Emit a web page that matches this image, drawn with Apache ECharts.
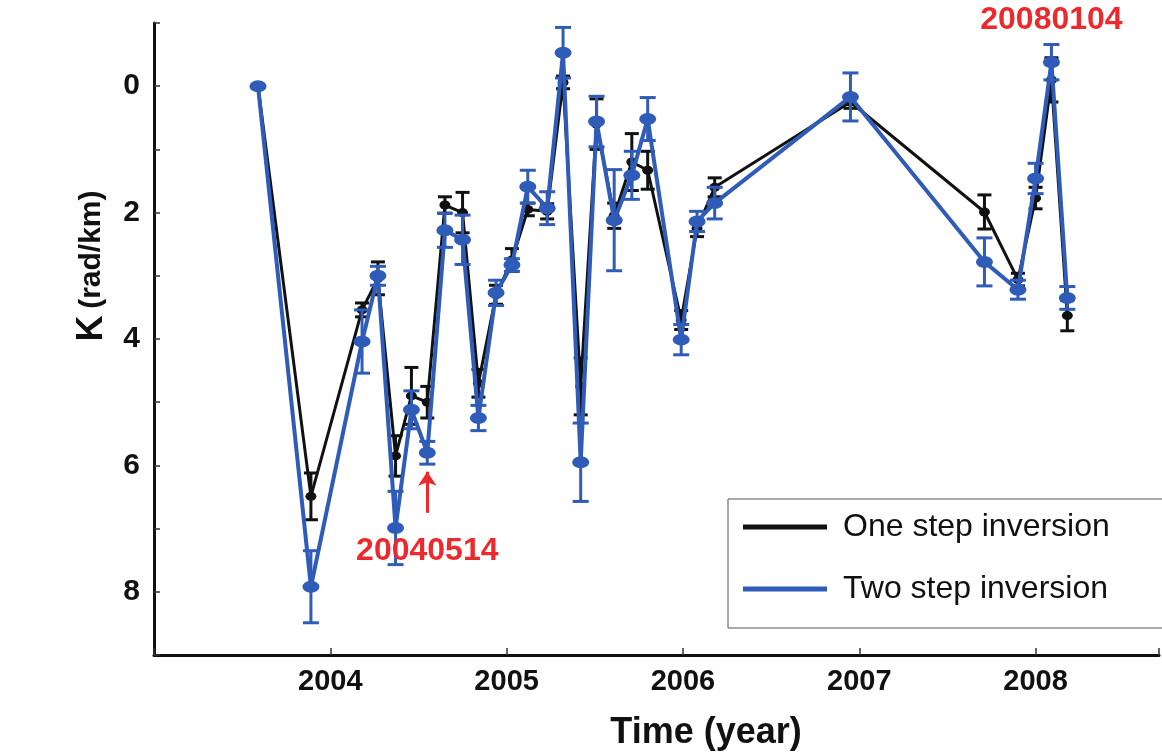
<!DOCTYPE html>
<html>
<head>
<meta charset="utf-8">
<script src="https://cdn.jsdelivr.net/npm/echarts@6/dist/echarts.min.js"></script>
<style>
html,body{margin:0;padding:0;background:#fff;}
#c{width:1162px;height:756px;}
</style>
</head>
<body>
<div id="c"></div>
<script>
// Time in fractional years
var years = [2003.59, 2003.89, 2004.18, 2004.27, 2004.37, 2004.46, 2004.55, 2004.65, 2004.75, 2004.84,
             2004.94, 2005.03, 2005.12, 2005.23, 2005.32, 2005.42, 2005.51, 2005.61, 2005.71, 2005.80,
             2005.99, 2006.08, 2006.18, 2006.95, 2007.71, 2007.90, 2008.00, 2008.09, 2008.18];
// One step inversion K (rad/km) and error
var oneStep = [0, 6.49, 3.54, 3.04, 5.85, 4.90, 5.00, 1.88, 2.00, 4.70,
               3.30, 2.75, 1.95, 1.98, -0.06, 4.75, 0.60, 2.05, 1.20, 1.33,
               3.70, 2.25, 1.60, 0.25, 1.99, 3.06, 1.77, -0.10, 3.63];
var oneStepErr = [0, 0.37, 0.11, 0.26, 0.32, 0.45, 0.25, 0.13, 0.32, 0.22,
                  0.15, 0.18, 0.10, 0.12, 0.10, 0.45, 0.40, 0.20, 0.45, 0.30,
                  0.15, 0.13, 0.15, 0.10, 0.27, 0.10, 0.17, 0.35, 0.24];
// Two step inversion K (rad/km) and error
var twoStep = [0, 7.92, 4.04, 3.00, 6.99, 5.12, 5.80, 2.28, 2.43, 5.25,
               3.27, 2.83, 1.59, 1.93, -0.53, 5.95, 0.56, 2.12, 1.41, 0.52,
               4.01, 2.14, 1.85, 0.17, 2.78, 3.22, 1.46, -0.38, 3.35];
var twoStepErr = [0, 0.57, 0.50, 0.15, 0.58, 0.30, 0.18, 0.27, 0.39, 0.20,
                  0.20, 0.10, 0.26, 0.26, 0.40, 0.62, 0.40, 0.80, 0.38, 0.34,
                  0.24, 0.16, 0.25, 0.38, 0.38, 0.15, 0.24, 0.28, 0.18];
var yTickLabels = ['0', '2', '4', '6', '8'];
var xTickLabels = ['2004', '2005', '2006', '2007', '2008'];
var seriesNames = ['One step inversion', 'Two step inversion'];
var annotations = [
  {text: '20040514', x: 2004.55, y: 7.36},
  {text: '20080104', x: 2008.09, y: -1.05}
];
var arrowCoords = [[2004.55, 6.75], [2004.55, 6.1]];

var BLACK = '#111111', BLUE = '#2f5cb8', RED = '#ec2a2e';

function pairs(v) { return years.map(function (x, i) { return [x, v[i]]; }); }
function errData(v, e) { return years.map(function (x, i) { return [x, v[i] - e[i], v[i] + e[i]]; }); }

function errRender(color, cap, lw) {
  return function (params, api) {
    var x = api.value(0);
    var lo = api.value(1), hi = api.value(2);
    if (hi - lo <= 0) return null;
    var p1 = api.coord([x, lo]), p2 = api.coord([x, hi]);
    var st = {stroke: color, lineWidth: lw};
    return {
      type: 'group',
      children: [
        {type: 'line', shape: {x1: p1[0], y1: p1[1], x2: p2[0], y2: p2[1]}, style: st},
        {type: 'line', shape: {x1: p1[0] - cap, y1: p1[1], x2: p1[0] + cap, y2: p1[1]}, style: st},
        {type: 'line', shape: {x1: p2[0] - cap, y1: p2[1], x2: p2[0] + cap, y2: p2[1]}, style: st}
      ]
    };
  };
}

var tickFont = "'Liberation Sans Narrow', 'Arial Narrow', 'Liberation Sans', Arial, sans-serif";
var chart = echarts.init(document.getElementById('c'), null, {renderer: 'canvas'});

var option = {
  animation: false,
  backgroundColor: '#ffffff',
  grid: {left: 154, right: 0, top: 23, bottom: 101, containLabel: false},
  xAxis: {
    type: 'value', min: 2003, max: 2008.7, interval: 1,
    axisLine: {show: true, onZero: false, lineStyle: {color: '#111', width: 3}},
    axisTick: {show: true, inside: true, length: 7, lineStyle: {color: '#333', width: 1.5}},
    splitLine: {show: false},
    axisLabel: {
      margin: 12, color: '#111', fontSize: 29, fontWeight: 'bold', fontFamily: tickFont,
      formatter: function (v) { var s = String(Math.round(v)); return (Math.abs(v - Math.round(v)) < 1e-6 && xTickLabels.indexOf(s) >= 0) ? s : ''; }
    }
  },
  yAxis: {
    type: 'value', inverse: true, min: -1, max: 9, interval: 1,
    axisLine: {show: true, onZero: false, lineStyle: {color: '#111', width: 3}},
    axisTick: {show: true, inside: true, length: 6, lineStyle: {color: '#333', width: 1.5}},
    splitLine: {show: false},
    axisLabel: {
      margin: 14, color: '#111', fontSize: 30, fontWeight: 'bold', fontFamily: tickFont,
      formatter: function (v) { var s = String(v); return yTickLabels.indexOf(s) >= 0 ? s : ''; }
    }
  },
  legend: {
    left: 728, top: 499, orient: 'vertical',
    backgroundColor: '#fff',
    borderColor: '#555', borderWidth: 1,
    padding: [10, 60, 21, 15],
    itemGap: 26, itemWidth: 84, itemHeight: 5,
    textStyle: {fontSize: 32, color: '#111', fontFamily: "'Liberation Sans', Arial, sans-serif", padding: [0, 0, 0, 11], lineHeight: 36},
    data: [{name: seriesNames[0], icon: 'rect'}, {name: seriesNames[1], icon: 'rect'}],
    selectedMode: false
  },
  series: [
    {
      name: 'oneErr', type: 'custom', data: errData(oneStep, oneStepErr),
      renderItem: errRender(BLACK, 7, 3), z: 2, silent: true
    },
    {
      name: seriesNames[0], type: 'line', data: pairs(oneStep), color: BLACK,
      lineStyle: {color: BLACK, width: 3}, itemStyle: {color: BLACK},
      symbol: 'circle', symbolSize: [11, 9], showSymbol: true, z: 3
    },
    {
      name: 'twoErr', type: 'custom', data: errData(twoStep, twoStepErr),
      renderItem: errRender(BLUE, 8, 3), z: 4, silent: true
    },
    {
      name: seriesNames[1], type: 'line', data: pairs(twoStep), color: BLUE,
      lineStyle: {color: BLUE, width: 4}, itemStyle: {color: BLUE},
      symbol: 'circle', symbolSize: [17, 12], showSymbol: true, z: 5,
      markLine: {
        silent: true, symbol: ['none', 'arrow'], symbolSize: 14,
        label: {show: false},
        lineStyle: {color: RED, width: 3, type: 'solid'},
        data: [[{coord: arrowCoords[0]}, {coord: arrowCoords[1]}]]
      }
    }
  ]
};
chart.setOption(option);

var g = [];
annotations.forEach(function (a) {
  var p = chart.convertToPixel({gridIndex: 0}, [a.x, a.y]);
  g.push({
    type: 'text', x: p[0], y: p[1], z: 20,
    style: {text: a.text, fill: RED, font: "bold 32px 'Liberation Sans', Arial, sans-serif", textAlign: 'center', textVerticalAlign: 'middle'}
  });
});
g.push({
  type: 'text', x: 92, y: 266, rotation: Math.PI / 2, z: 20,
  style: {
    text: '{k|K}  {u|(rad/km)}', textAlign: 'center', textVerticalAlign: 'middle',
    rich: {
      k: {fontSize: 36, fontWeight: 'bold', fill: '#111', fontFamily: "'Liberation Sans', Arial, sans-serif"},
      u: {fontSize: 30, fontWeight: 'bold', fill: '#111', fontFamily: "'Liberation Sans Narrow', 'Liberation Sans', Arial, sans-serif"}
    }
  }
});
g.push({
  type: 'text', x: 706, y: 733, z: 20,
  style: {text: 'Time (year)', fill: '#111', font: "bold 36px 'Liberation Sans Narrow', 'Liberation Sans', Arial, sans-serif", textAlign: 'center', textVerticalAlign: 'middle'}
});
chart.setOption({graphic: g});
</script>
</body>
</html>
